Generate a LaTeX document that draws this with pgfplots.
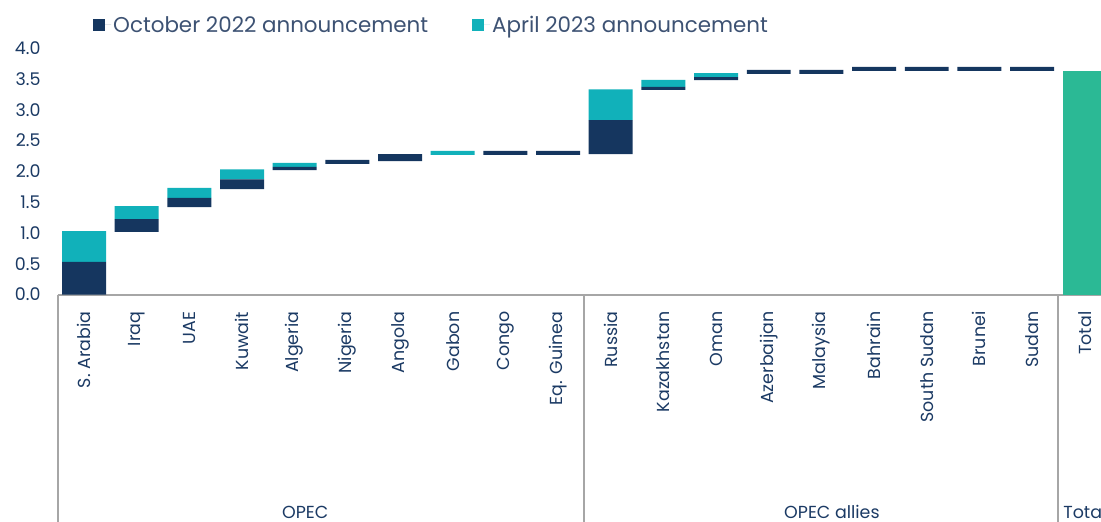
\documentclass[border=0pt]{standalone}
\usepackage{fontspec}
\setmainfont{Poppins}
\usepackage{pgfplots}
\usepackage{pgfplotstable}
\pgfplotsset{compat=1.18}
\definecolor{navy}{HTML}{15365F}
\definecolor{tealc}{HTML}{11B1BA}
\definecolor{greenc}{HTML}{2BB995}
\definecolor{txt}{HTML}{1B3A64}
\definecolor{legtxt}{HTML}{3D5273}
\definecolor{linegray}{HTML}{A6A6A6}

\pgfplotstableread{
x  base   oct    apr    tot
0  0      0.53   0.50   0
1  1.015  0.21   0.21   0
2  1.42   0.15   0.16   0
3  1.71   0.16   0.16   0
4  2.02   0.05   0.065  0
5  2.12   0.065  0      0
6  2.165  0.115  0      0
7  2.265  0      0.065  0
8  2.265  0.065  0      0
9  2.265  0.065  0      0
10 2.28   0.55   0.50   0
11 3.32   0.05   0.115  0
12 3.48   0.05   0.065  0
13 3.58   0.065  0      0
14 3.58   0.065  0      0
15 3.63   0.065  0      0
16 3.63   0.065  0      0
17 3.63   0.065  0      0
18 3.63   0.065  0      0
19 0      0      0      3.63
}\data

\begin{document}
\begin{tikzpicture}
\begin{axis}[
  at={(57.7bp,-294.5bp)}, anchor=south west,
  scale only axis, width=1053.4bp, height=246.4bp,
  xmin=-0.5, xmax=19.5, ymin=0, ymax=4,
  ybar stacked, bar width=0.835,
  axis line style={draw=none}, tick style={draw=none},
  clip=false,
  ytick={0,0.5,1,1.5,2,2.5,3,3.5,4},
  /pgf/number format/fixed, /pgf/number format/fixed zerofill, /pgf/number format/precision=1,
  /pgf/number format/assume math mode=true,
  yticklabel style={font=\fontsize{17.5}{17.5}\selectfont, text=txt, anchor=east, inner sep=0pt, xshift=-17bp},
  xtick={0,...,19},
  xticklabels={S. Arabia, Iraq, UAE, Kuwait, Algeria, Nigeria, Angola, Gabon, Congo, Eq. Guinea, Russia, Kazakhstan, Oman, Azerbaijan, Malaysia, Bahrain, South Sudan, Brunei, Sudan, Total},
  xticklabel style={yshift=-17bp, rotate=90, anchor=east, inner sep=0pt, font=\fontsize{17.5}{17.5}\selectfont, text=txt},
  legend columns=2,
  legend style={at={(0.0335,1.094)}, anchor=west, draw=none, fill=none, inner sep=0pt,
    font=\fontsize{21.5}{21.5}\selectfont, text=legtxt,
    /tikz/every even column/.append style={column sep=42bp}},
]
\addplot[fill=none, draw=none, forget plot] table[x=x, y=base]{\data};
\addplot[fill=navy, draw=none, legend image code/.code={\fill[navy] (0bp,-6bp) rectangle (12bp,6bp); \path (0bp,0bp) -- (18bp,0bp);}] table[x=x, y=oct]{\data};
\addlegendentry{October 2022 announcement}
\addplot[fill=tealc, draw=none, legend image code/.code={\fill[tealc] (0bp,-6bp) rectangle (12bp,6bp); \path (0bp,0bp) -- (18bp,0bp);}] table[x=x, y=apr]{\data};
\addlegendentry{April 2023 announcement}
\addplot[fill=greenc, draw=none, forget plot] table[x=x, y=tot]{\data};

\draw[linegray, line width=2bp] (axis cs:-0.5,0) -- (axis cs:19.5,0);
\draw[linegray, line width=2bp] (axis cs:-0.5,0) -- ([yshift=-228bp]axis cs:-0.5,0);
\draw[linegray, line width=2bp] (axis cs:9.5,0) -- ([yshift=-228bp]axis cs:9.5,0);
\draw[linegray, line width=2bp] (axis cs:18.5,0) -- ([yshift=-228bp]axis cs:18.5,0);
\node[font=\fontsize{17.5}{17.5}\selectfont, text=txt, anchor=base] at ([yshift=-223.5bp]axis cs:4.2,0) {OPEC};
\node[font=\fontsize{17.5}{17.5}\selectfont, text=txt, anchor=base] at ([yshift=-223.5bp]axis cs:14.2,0) {OPEC allies};
\node[font=\fontsize{17.5}{17.5}\selectfont, text=txt, anchor=base west, inner sep=0pt] at ([yshift=-223.5bp]axis cs:18.59,0) {Total};
\end{axis}
\pgfresetboundingbox
\useasboundingbox (0,0) rectangle (1101bp,-522bp);
\end{tikzpicture}
\end{document}
